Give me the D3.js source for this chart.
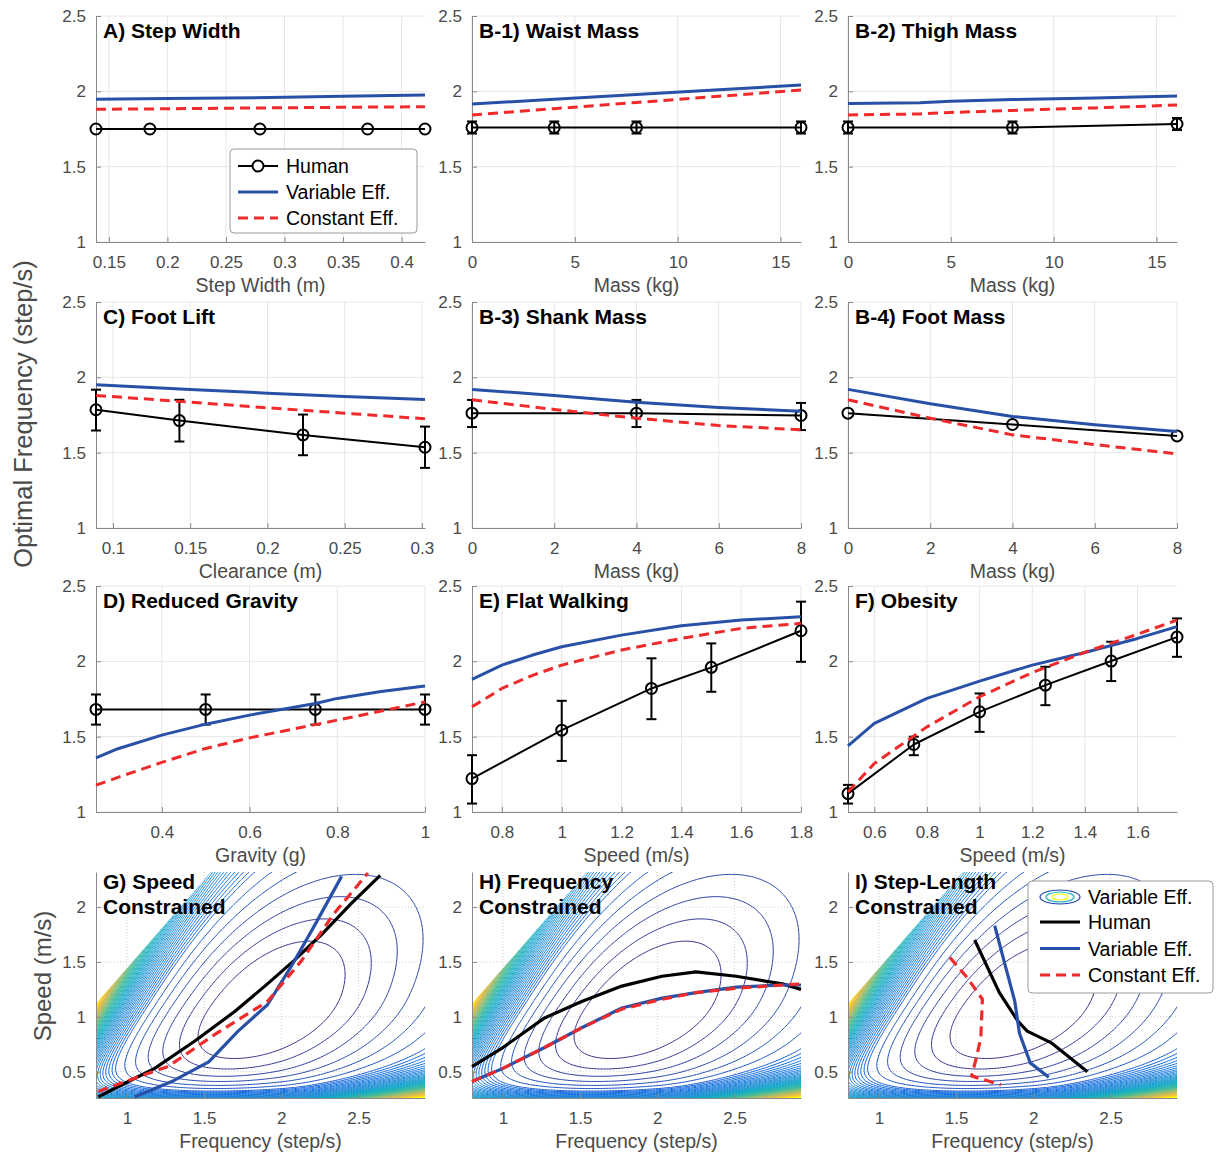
<!DOCTYPE html>
<html>
<head>
<meta charset="utf-8">
<script src="https://cdn.jsdelivr.net/npm/d3@7"></script>
<style>
  body { margin: 0; background: #fff; }
  svg { font-family: "Liberation Sans", Arial, Helvetica, sans-serif; }
</style>
</head>
<body>
<svg id="fig" width="1216" height="1153"></svg>
<script>
// ---------- data ----------
// A) step width
const aStepWidth = [0.139, 0.185, 0.279, 0.371, 0.42];
const aHuman = [1.75, 1.75, 1.75, 1.75, 1.75];
const aModelX = [0.139, 0.2, 0.25, 0.3, 0.35, 0.42];
const aVariable = [1.947, 1.952, 1.956, 1.96, 1.967, 1.976];
const aConstant = [1.881, 1.884, 1.888, 1.891, 1.894, 1.898];

// B-1) waist mass
const b1Mass = [0, 4, 8, 16];
const b1Human = [1.76, 1.76, 1.76, 1.76];
const b1Lo = [1.72, 1.72, 1.72, 1.72];
const b1Hi = [1.80, 1.80, 1.80, 1.80];
const b1ModelX = [0, 4, 8, 12, 16];
const b1Variable = [1.916, 1.948, 1.979, 2.01, 2.042];
const b1Constant = [1.843, 1.885, 1.926, 1.967, 2.009];

// B-2) thigh mass
const b2Mass = [0, 8, 16];
const b2Human = [1.76, 1.76, 1.783];
const b2Lo = [1.72, 1.72, 1.743];
const b2Hi = [1.80, 1.80, 1.823];
const b2ModelX = [0, 3.5, 5, 8, 12, 16];
const b2Variable = [1.92, 1.925, 1.935, 1.945, 1.955, 1.969];
const b2Constant = [1.843, 1.85, 1.86, 1.873, 1.89, 1.909];

// C) foot lift
const cClearance = [0.089, 0.143, 0.223, 0.302];
const cHuman = [1.785, 1.713, 1.618, 1.536];
const cLo = [1.647, 1.574, 1.483, 1.399];
const cHi = [1.918, 1.851, 1.753, 1.673];
const cModelX = [0.089, 0.15, 0.2, 0.25, 0.302];
const cVariable = [1.951, 1.92, 1.895, 1.873, 1.853];
const cConstant = [1.88, 1.835, 1.798, 1.762, 1.725];

// B-3) shank mass
const b3Mass = [0, 4, 8];
const b3Human = [1.762, 1.762, 1.747];
const b3Lo = [1.67, 1.67, 1.65];
const b3Hi = [1.85, 1.85, 1.83];
const b3ModelX = [0, 2, 4, 6, 8];
const b3Variable = [1.92, 1.88, 1.835, 1.80, 1.775];
const b3Constant = [1.851, 1.787, 1.729, 1.68, 1.652];

// B-4) foot mass
const b4Mass = [0, 4, 8];
const b4Human = [1.762, 1.687, 1.611];
const b4ModelX = [0, 2, 4, 6, 8];
const b4Variable = [1.92, 1.825, 1.74, 1.685, 1.64];
const b4Constant = [1.851, 1.729, 1.618, 1.554, 1.492];

// D) reduced gravity
const dGravity = [0.25, 0.5, 0.75, 1];
const dHuman = [1.681, 1.681, 1.681, 1.681];
const dLo = [1.58, 1.58, 1.58, 1.58];
const dHi = [1.78, 1.78, 1.78, 1.78];
const dModelX = [0.25, 0.3, 0.4, 0.5, 0.6, 0.75, 0.8, 0.9, 1];
const dVariable = [1.359, 1.42, 1.51, 1.583, 1.643, 1.72, 1.754, 1.80, 1.836];
const dConstant = [1.178, 1.23, 1.329, 1.422, 1.492, 1.58, 1.61, 1.67, 1.731];

// E) flat walking
const eSpeed = [0.7, 1.0, 1.3, 1.5, 1.8];
const eHuman = [1.222, 1.543, 1.82, 1.96, 2.203];
const eLo = [1.056, 1.339, 1.616, 1.798, 1.997];
const eHi = [1.377, 1.738, 2.02, 2.119, 2.396];
const eModelX = [0.7, 0.8, 0.9, 1.0, 1.2, 1.4, 1.6, 1.8];
const eVariable = [1.88, 1.975, 2.04, 2.097, 2.174, 2.236, 2.274, 2.296];
const eConstant = [1.698, 1.82, 1.905, 1.975, 2.075, 2.152, 2.219, 2.252];

// F) obesity
const fSpeed = [0.5, 0.75, 1.0, 1.25, 1.5, 1.75];
const fHuman = [1.122, 1.448, 1.665, 1.842, 2.002, 2.161];
const fLo = [1.056, 1.377, 1.532, 1.709, 1.869, 2.03];
const fHi = [1.18, 1.50, 1.787, 1.964, 2.13, 2.285];
const fModelX = [0.5, 0.6, 0.8, 1.0, 1.2, 1.4, 1.6, 1.75];
const fVariable = [1.439, 1.588, 1.754, 1.869, 1.975, 2.059, 2.152, 2.23];
const fConstant = [1.133, 1.322, 1.565, 1.765, 1.925, 2.06, 2.18, 2.274];

// G) speed constrained  (frequency, speed)
const gHumanF = [0.815, 1.01, 1.18, 1.44, 1.70, 1.91, 2.08, 2.26, 2.45, 2.64];
const gHumanV = [0.27, 0.41, 0.53, 0.78, 1.05, 1.30, 1.51, 1.75, 2.03, 2.29];
const gVariableF = [1.05, 1.29, 1.53, 1.72, 1.91, 2.06, 2.21, 2.39];
const gVariableV = [0.27, 0.41, 0.59, 0.87, 1.11, 1.45, 1.82, 2.28];
const gConstantF = [0.815, 1.05, 1.27, 1.57, 1.91, 2.13, 2.34, 2.56];
const gConstantV = [0.32, 0.44, 0.55, 0.84, 1.14, 1.51, 1.94, 2.31];

// H) frequency constrained
const hFreq = [0.8, 1.0, 1.27, 1.51, 1.77, 2.03, 2.25, 2.51, 2.81, 2.93];
const hHumanV = [0.547, 0.72, 0.99, 1.14, 1.28, 1.37, 1.41, 1.37, 1.30, 1.25];
const hVariableV = [0.41, 0.53, 0.72, 0.90, 1.08, 1.17, 1.22, 1.27, 1.29, 1.29];
const hConstantV = [0.41, 0.53, 0.72, 0.90, 1.07, 1.16, 1.22, 1.26, 1.29, 1.30];

// I) step-length constrained
const iHumanF = [1.62, 1.78, 1.90, 1.96, 2.12, 2.35];
const iHumanV = [1.70, 1.22, 0.96, 0.87, 0.76, 0.50];
const iVariableF = [1.75, 1.81, 1.88, 1.91, 1.98, 2.10];
const iVariableV = [1.83, 1.51, 1.14, 0.85, 0.58, 0.45];
const iConstantF = [1.46, 1.57, 1.67, 1.66, 1.63, 1.60, 1.79];
const iConstantV = [1.54, 1.36, 1.16, 0.81, 0.62, 0.46, 0.38];

// cost surface behind G-I (variable efficiency model), shape parameters
const costCenter = [1.88, 1.08];
const bandK = 3.4, bandS0 = 1.45, bandL = 0.45, bandM = 2.65;   // long-step wall
const floorK = 1.6, floorV0 = 0.26, floorL = 0.11;              // slow-speed wall
const feasSlope = 1.62, feasIntercept = -0.18;                   // step length limit
const contourLevels = d3.range(0.7, 1.85, 0.2).concat(d3.range(1.9, 7.2, 0.085));

// ---------- layout ----------
const svg = d3.select("#fig");
const colX = [96, 472, 848];
const rowY = [16, 302, 586, 872];
const PW = 329, PH = 226;
const BLUE = "#2850a6", RED = "#ee2a2a";
const parula = d3.scaleLinear()
  .domain([0, 0.125, 0.25, 0.375, 0.5, 0.625, 0.75, 0.875, 1])
  .range(["#352a87", "#0363e1", "#1485d4", "#06a7c6", "#38b99e", "#92bf73", "#d9ba56", "#fcce2e", "#f9fb0e"])
  .clamp(true);

function panel(col, row, xDom, yDom, xTicks, yTicks, xLabel, dotted) {
  const g = svg.append("g").attr("transform", `translate(${colX[col]},${rowY[row]})`);
  const x = d3.scaleLinear().domain(xDom).range([0, PW]);
  const y = d3.scaleLinear().domain(yDom).range([PH, 0]);
  const grid = g.append("g").attr("stroke", dotted ? "#cfcfcf" : "#e6e6e6")
    .attr("stroke-dasharray", dotted ? "1,2" : null);
  grid.selectAll(".gx").data(xTicks).join("line")
    .attr("x1", d => x(d)).attr("x2", d => x(d)).attr("y1", 0).attr("y2", PH);
  grid.selectAll(".gy").data(yTicks).join("line")
    .attr("y1", d => y(d)).attr("y2", d => y(d)).attr("x1", 0).attr("x2", PW);
  return { g, x, y, xTicks, yTicks, xLabel };
}

function axes(p) {
  const ax = p.g.append("g").attr("transform", `translate(0,${PH})`)
    .call(d3.axisBottom(p.x).tickValues(p.xTicks).tickSize(-5).tickSizeOuter(0)
      .tickPadding(14).tickFormat(d => String(d)));
  const ay = p.g.append("g")
    .call(d3.axisLeft(p.y).tickValues(p.yTicks).tickSize(-5).tickSizeOuter(0)
      .tickPadding(10).tickFormat(d => String(d)));
  [ax, ay].forEach(a => {
    a.attr("font-family", null).attr("font-size", 17);
    a.select(".domain").attr("stroke", "#8a8a8a");
    a.selectAll(".tick line").attr("stroke", "#8a8a8a");
    a.selectAll(".tick text").attr("fill", "#4a4a4a");
  });
  p.g.append("text").attr("x", PW / 2).attr("y", PH + 50)
    .attr("text-anchor", "middle").attr("font-size", 19.5).attr("fill", "#4a4a4a")
    .text(p.xLabel);
}

function title(p, lines, y0) {
  lines.forEach((t, i) => p.g.append("text").attr("x", 7).attr("y", y0 + i * 25)
    .attr("font-size", 21).attr("font-weight", "bold").attr("fill", "#000").text(t));
}

function series(p, xs, ys, color, width, dash) {
  const line = d3.line().x(i => p.x(xs[i])).y(i => p.y(ys[i]));
  p.g.append("path").attr("d", line(d3.range(xs.length)))
    .attr("fill", "none").attr("stroke", color).attr("stroke-width", width)
    .attr("stroke-dasharray", dash || null).attr("stroke-linejoin", "round");
}

function human(p, xs, ys, lo, hi) {
  series(p, xs, ys, "#000", 2);
  if (lo) {
    const eb = p.g.append("g").attr("stroke", "#000").attr("stroke-width", 2);
    xs.forEach((xv, i) => {
      const cx = p.x(xv);
      eb.append("line").attr("x1", cx).attr("x2", cx).attr("y1", p.y(lo[i])).attr("y2", p.y(hi[i]));
      eb.append("line").attr("x1", cx - 5).attr("x2", cx + 5).attr("y1", p.y(lo[i])).attr("y2", p.y(lo[i]));
      eb.append("line").attr("x1", cx - 5).attr("x2", cx + 5).attr("y1", p.y(hi[i])).attr("y2", p.y(hi[i]));
    });
  }
  p.g.append("g").selectAll("circle").data(d3.range(xs.length)).join("circle")
    .attr("cx", i => p.x(xs[i])).attr("cy", i => p.y(ys[i])).attr("r", 5.5)
    .attr("fill", "none").attr("stroke", "#000").attr("stroke-width", 2);
}

function freqPanel(col, row, xDom, xTicks, xLabel, name, hx, hy, lo, hi, mx, vy, cy) {
  const p = panel(col, row, xDom, [1, 2.5], xTicks, [1, 1.5, 2, 2.5], xLabel);
  axes(p);
  human(p, hx, hy, lo, hi);
  series(p, mx, vy, BLUE, 3);
  series(p, mx, cy, RED, 3, "10,6");
  title(p, [name], 22);
  return p;
}

// ---------- rows 1-3 ----------
freqPanel(0, 0, [0.139, 0.42], [0.15, 0.2, 0.25, 0.3, 0.35, 0.4], "Step Width (m)",
  "A) Step Width", aStepWidth, aHuman, null, null, aModelX, aVariable, aConstant);
freqPanel(1, 0, [0, 16], [0, 5, 10, 15], "Mass (kg)", "B-1) Waist Mass",
  b1Mass, b1Human, b1Lo, b1Hi, b1ModelX, b1Variable, b1Constant);
freqPanel(2, 0, [0, 16], [0, 5, 10, 15], "Mass (kg)", "B-2) Thigh Mass",
  b2Mass, b2Human, b2Lo, b2Hi, b2ModelX, b2Variable, b2Constant);
freqPanel(0, 1, [0.089, 0.302], [0.1, 0.15, 0.2, 0.25, 0.3], "Clearance (m)", "C) Foot Lift",
  cClearance, cHuman, cLo, cHi, cModelX, cVariable, cConstant);
freqPanel(1, 1, [0, 8], [0, 2, 4, 6, 8], "Mass (kg)", "B-3) Shank Mass",
  b3Mass, b3Human, b3Lo, b3Hi, b3ModelX, b3Variable, b3Constant);
freqPanel(2, 1, [0, 8], [0, 2, 4, 6, 8], "Mass (kg)", "B-4) Foot Mass",
  b4Mass, b4Human, null, null, b4ModelX, b4Variable, b4Constant);
freqPanel(0, 2, [0.25, 1], [0.4, 0.6, 0.8, 1], "Gravity (g)", "D) Reduced Gravity",
  dGravity, dHuman, dLo, dHi, dModelX, dVariable, dConstant);
freqPanel(1, 2, [0.7, 1.8], [0.8, 1, 1.2, 1.4, 1.6, 1.8], "Speed (m/s)", "E) Flat Walking",
  eSpeed, eHuman, eLo, eHi, eModelX, eVariable, eConstant);
freqPanel(2, 2, [0.5, 1.75], [0.6, 0.8, 1, 1.2, 1.4, 1.6], "Speed (m/s)", "F) Obesity",
  fSpeed, fHuman, fLo, fHi, fModelX, fVariable, fConstant);

// legend in A
{
  const lg = svg.append("g").attr("transform", "translate(230,149)");
  lg.append("rect").attr("width", 187).attr("height", 84).attr("rx", 4)
    .attr("fill", "#fff").attr("stroke", "#9a9a9a");
  const rows = [["Human", "#000", 2, null], ["Variable Eff.", BLUE, 3, null], ["Constant Eff.", RED, 3, "10,6"]];
  rows.forEach((r, i) => {
    const yy = 17 + i * 26;
    lg.append("line").attr("x1", 8).attr("x2", 48).attr("y1", yy).attr("y2", yy)
      .attr("stroke", r[1]).attr("stroke-width", r[2]).attr("stroke-dasharray", r[3]);
    if (i === 0) lg.append("circle").attr("cx", 28).attr("cy", yy).attr("r", 5.5)
      .attr("fill", "#fff").attr("stroke", "#000").attr("stroke-width", 2);
    lg.append("text").attr("x", 56).attr("y", yy + 7).attr("font-size", 19.5).text(r[0]);
  });
}

// ---------- row 4: cost contours ----------
const fDom = [0.8, 2.93], vDom = [0.26, 2.32];
function walkCost(f, v) {
  const x = f - costCenter[0], y0 = v - costCenter[1];
  const y = y0 * (0.9 - 0.1 * Math.tanh(4 * y0));
  const ring = Math.sqrt(2 * x * x - 2 * x * y + 2 * y * y);
  const band = bandK * Math.exp((v / f - bandS0) / bandL) / Math.pow(f, bandM);
  const floor = floorK * (1 + 2.5 * Math.pow(Math.max(0, f - 2), 2)) * Math.exp(-(v - floorV0) / floorL);
  return ring + band + floor;
}
const nx = 240, ny = 190;
const gf0 = 0.7, gf1 = 3.05, gv0 = 0.18, gv1 = 2.42;
const dfg = (gf1 - gf0) / (nx - 1), dvg = (gv1 - gv0) / (ny - 1);
const costGrid = new Array(nx * ny);
for (let j = 0; j < ny; j++) for (let i = 0; i < nx; i++)
  costGrid[j * nx + i] = walkCost(gf0 + i * dfg, gv0 + j * dvg);
const contourSet = d3.contours().size([nx, ny]).thresholds(contourLevels)(costGrid);
const lvLo = contourLevels[0], lvHi = contourLevels[contourLevels.length - 1];
const levelT = d3.scaleLinear().domain([lvLo, 1.9, lvHi]).range([0, 0.1, 1]);
const levelColor = v => parula(levelT(v));

function contourPanel(col, name, id) {
  const p = panel(col, 3, fDom, vDom, [1, 1.5, 2, 2.5], [0.5, 1, 1.5, 2], "Frequency (step/s)", true);
  const proj = d3.geoTransform({
    point: function (gx, gy) {
      this.stream.point(p.x(gf0 + (gx - 0.5) * dfg), p.y(gv0 + (gy - 0.5) * dvg));
    }
  });
  const vTop = vDom[1], fTop = (vTop - feasIntercept) / feasSlope;
  const clipPts = [[fDom[0], vDom[0]], [fDom[1], vDom[0]], [fDom[1], vTop], [fTop, vTop],
    [fDom[0], feasSlope * fDom[0] + feasIntercept]];
  svg.append("clipPath").attr("id", id).append("polygon")
    .attr("points", clipPts.map(d => [p.x(d[0]), p.y(d[1])].join(",")).join(" "));
  p.g.append("g").attr("clip-path", `url(#${id})`)
    .selectAll("path").data(contourSet).join("path")
    .attr("d", d3.geoPath(proj)).attr("fill", "none")
    .attr("stroke", d => levelColor(d.value)).attr("stroke-width", 1);
  axes(p);
  title(p, name, 17);
  return p;
}

const pG = contourPanel(0, ["G) Speed", "Constrained"], "clipG");
series(pG, gHumanF, gHumanV, "#000", 3.2);
series(pG, gVariableF, gVariableV, BLUE, 3.2);
series(pG, gConstantF, gConstantV, RED, 3.2, "10,6");

const pH = contourPanel(1, ["H) Frequency", "Constrained"], "clipH");
series(pH, hFreq, hHumanV, "#000", 3.2);
series(pH, hFreq, hVariableV, BLUE, 3.2);
series(pH, hFreq, hConstantV, RED, 3.2, "10,6");

const pI = contourPanel(2, ["I) Step-Length", "Constrained"], "clipI");
series(pI, iHumanF, iHumanV, "#000", 3.2);
series(pI, iVariableF, iVariableV, BLUE, 3.2);
series(pI, iConstantF, iConstantV, RED, 3.2, "10,6");

// legend in I
{
  const lg = svg.append("g").attr("transform", "translate(1028,881)");
  lg.append("rect").attr("width", 185).attr("height", 112).attr("rx", 4)
    .attr("fill", "#fff").attr("stroke", "#9a9a9a");
  [[20, 7, 0.05], [14, 5, 0.4], [8, 3, 1]].forEach(e =>
    lg.append("ellipse").attr("cx", 32).attr("cy", 16).attr("rx", e[0]).attr("ry", e[1])
      .attr("fill", "none").attr("stroke", parula(e[2])).attr("stroke-width", 1.2));
  lg.append("text").attr("x", 60).attr("y", 23).attr("font-size", 19.5).text("Variable Eff.");
  const rows = [["Human", "#000", null], ["Variable Eff.", BLUE, null], ["Constant Eff.", RED, "10,6"]];
  rows.forEach((r, i) => {
    const yy = 41 + i * 26.5;
    lg.append("line").attr("x1", 12).attr("x2", 52).attr("y1", yy).attr("y2", yy)
      .attr("stroke", r[1]).attr("stroke-width", 3).attr("stroke-dasharray", r[2]);
    lg.append("text").attr("x", 60).attr("y", yy + 7).attr("font-size", 19.5).text(r[0]);
  });
}

// shared y labels
svg.append("text").attr("transform", "translate(32,414) rotate(-90)")
  .attr("text-anchor", "middle").attr("font-size", 25.5).attr("fill", "#4a4a4a")
  .text("Optimal Frequency (step/s)");
svg.append("text").attr("transform", "translate(51,976) rotate(-90)")
  .attr("text-anchor", "middle").attr("font-size", 24).attr("fill", "#4a4a4a")
  .text("Speed (m/s)");
</script>
</body>
</html>
